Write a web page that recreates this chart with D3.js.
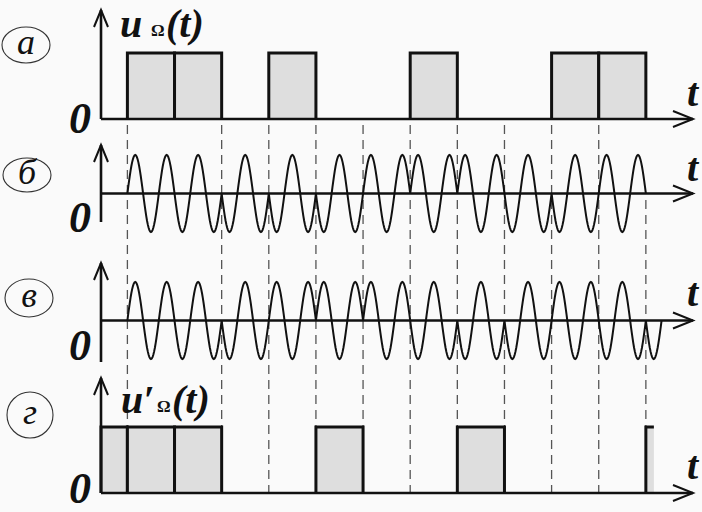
<!DOCTYPE html>
<html>
<head>
<meta charset="utf-8">
<script src="https://cdn.jsdelivr.net/npm/d3@7"></script>
<style>
  body { margin: 0; background: #fafafa; }
  svg { display: block; }
  text { font-family: "Liberation Serif", "Times New Roman", "DejaVu Serif", serif; }
</style>
</head>
<body>
<div id="chart"></div>
<script>
// bits of the modulating signal, bit index 0..10 along t
const bitsA = [1, 1, 0, 1, 0, 0, 1, 0, 0, 1, 1];
// carrier sign in each bit (+1 = starts going up, -1 = starts going down)
const phaseB = [1, -1, -1, -1, -1, 1, 1, 1, -1, -1, 1];
const phaseC = [1, -1, -1, 1, 1, 1, -1, -1, -1, 1, -1, -1];
// recovered bits, first entry is bit -1 (cut by the axis)
const bitsD = [1, 1, 1, 0, 0, 1, 0, 0, 1, 0, 0, 0, 1];
const dashTimes = [0, 2, 3, 4, 5, 6, 7, 8, 9, 10, 11];
const panelLabels = ["а", "б", "в", "г"];
const cyclesPerBit = 1.5;
const tAxis = [-0.56, 12];
const endB = 11, endC = 11 + 1 / 3, endD = 11.17;

const width = 702, height = 512;
const svg = d3.select("#chart").append("svg")
  .attr("width", width)
  .attr("height", height)
  .style("background", "#fafafa");

const x = d3.scaleLinear().domain(tAxis).range([101, 693]);

const panels = [
  {y: d3.scaleLinear().domain([0, 1]).range([119, 53]), axisTop: 10, axisBottom: 119,
   cx: 26, cy: 45, rx: 24, ry: 18, zeroBase: 133, tBase: 106},
  {y: d3.scaleLinear().domain([-1, 1]).range([232, 155]), axisTop: 145, axisBottom: 222,
   cx: 27, cy: 175, rx: 24, ry: 17, zeroBase: 232, tBase: 181},
  {y: d3.scaleLinear().domain([-1, 1]).range([359, 282]), axisTop: 263, axisBottom: 362,
   cx: 29, cy: 298, rx: 24, ry: 19, zeroBase: 360, tBase: 306},
  {y: d3.scaleLinear().domain([0, 1]).range([493, 427]), axisTop: 378, axisBottom: 493,
   cx: 30, cy: 415, rx: 23, ry: 23, zeroBase: 503, tBase: 479}
];

// dashed bit boundaries
svg.append("g").selectAll("line")
  .data(dashTimes)
  .join("line")
  .attr("x1", d => x(d)).attr("x2", d => x(d))
  .attr("y1", d => d === 11 ? 200 : 125)
  .attr("y2", 493)
  .attr("stroke", "#555")
  .attr("stroke-width", 1.3)
  .attr("stroke-dasharray", "9,6");

// pulses
function drawPulses(bits, first, end, y) {
  const g = svg.append("g");
  bits.forEach((b, i) => {
    if (!b) return;
    const t0 = Math.max(first + i, tAxis[0]);
    const t1 = Math.min(first + i + 1, end);
    g.append("rect")
      .attr("x", x(t0)).attr("y", y(1))
      .attr("width", x(t1) - x(t0)).attr("height", y(0) - y(1))
      .attr("fill", "#dedede");
    let p = `M${x(t0)},${y(0)}V${y(1)}H${x(t1)}`;
    if (first + i + 1 <= end) p += `V${y(0)}`;
    g.append("path").attr("d", p)
      .attr("fill", "none").attr("stroke", "#111")
      .attr("stroke-width", 3).attr("stroke-linejoin", "miter");
  });
}
drawPulses(bitsA, 0, 11, panels[0].y);
drawPulses(bitsD, -1, endD, panels[3].y);

// carrier waves
function wavePoints(signs, end) {
  const pts = [];
  signs.forEach((s, k) => {
    const n = 60;
    for (let i = 0; i <= n; i++) {
      const u = i / n;
      if (k + u > end + 1e-9) break;
      pts.push({t: k + u, v: s * Math.sin(2 * Math.PI * cyclesPerBit * u)});
    }
  });
  return pts;
}
[[phaseB, endB, panels[1].y], [phaseC, endC, panels[2].y]].forEach(([signs, end, y]) => {
  svg.append("path")
    .datum(wavePoints(signs, end))
    .attr("fill", "none")
    .attr("stroke", "#111")
    .attr("stroke-width", 2)
    .attr("d", d3.line().x(d => x(d.t)).y(d => y(d.v)));
});

// axes, labels
panels.forEach((p, i) => {
  const y0 = p.y(0);
  const g = svg.append("g").attr("fill", "none").attr("stroke", "#111");
  g.append("line").attr("x1", x(tAxis[0])).attr("x2", x(tAxis[1]))
    .attr("y1", y0).attr("y2", y0).attr("stroke-width", 2.6);
  g.append("path")
    .attr("d", `M${x(tAxis[1]) - 20},${y0 - 8}L${x(tAxis[1])},${y0}L${x(tAxis[1]) - 20},${y0 + 8}`)
    .attr("stroke-width", 2);
  g.append("line").attr("x1", x(tAxis[0])).attr("x2", x(tAxis[0]))
    .attr("y1", p.axisBottom).attr("y2", p.axisTop).attr("stroke-width", 2.6);
  g.append("path")
    .attr("d", `M${x(tAxis[0]) - 7},${p.axisTop + 17}L${x(tAxis[0])},${p.axisTop}L${x(tAxis[0]) + 7},${p.axisTop + 17}`)
    .attr("stroke-width", 2);

  svg.append("ellipse")
    .attr("cx", p.cx).attr("cy", p.cy).attr("rx", p.rx).attr("ry", p.ry)
    .attr("fill", "none").attr("stroke", "#333").attr("stroke-width", 1.1);
  svg.append("text")
    .attr("x", p.cx).attr("y", p.cy + 9)
    .attr("text-anchor", "middle")
    .attr("font-style", "italic")
    .attr("font-size", 36)
    .attr("fill", "#111")
    .text(panelLabels[i]);

  svg.append("text")
    .attr("x", 91).attr("y", p.zeroBase)
    .attr("text-anchor", "end")
    .attr("font-style", "italic").attr("font-weight", "bold")
    .attr("font-size", 44).attr("fill", "#111")
    .text("0");
  svg.append("text")
    .attr("x", 698).attr("y", p.tBase)
    .attr("text-anchor", "end")
    .attr("font-style", "italic").attr("font-weight", "bold")
    .attr("font-size", 40).attr("fill", "#111")
    .text("t");
});

// signal names
function signalName(xp, base, prime) {
  const shift = prime ? 5 : 0;
  const t = svg.append("text")
    .attr("font-style", "italic").attr("font-weight", "bold")
    .attr("fill", "#111");
  t.append("tspan").attr("x", xp).attr("y", base).attr("font-size", 40).text(prime ? "u′" : "u");
  t.append("tspan").attr("x", xp + 31 + shift).attr("y", base - 1).attr("font-size", 17).attr("font-style", "normal").text("Ω");
  t.append("tspan").attr("x", xp + 46 + shift).attr("y", base).attr("font-size", 40).text("(t)");
}
signalName(120, 37, false);
signalName(121, 413, true);
</script>
</body>
</html>
